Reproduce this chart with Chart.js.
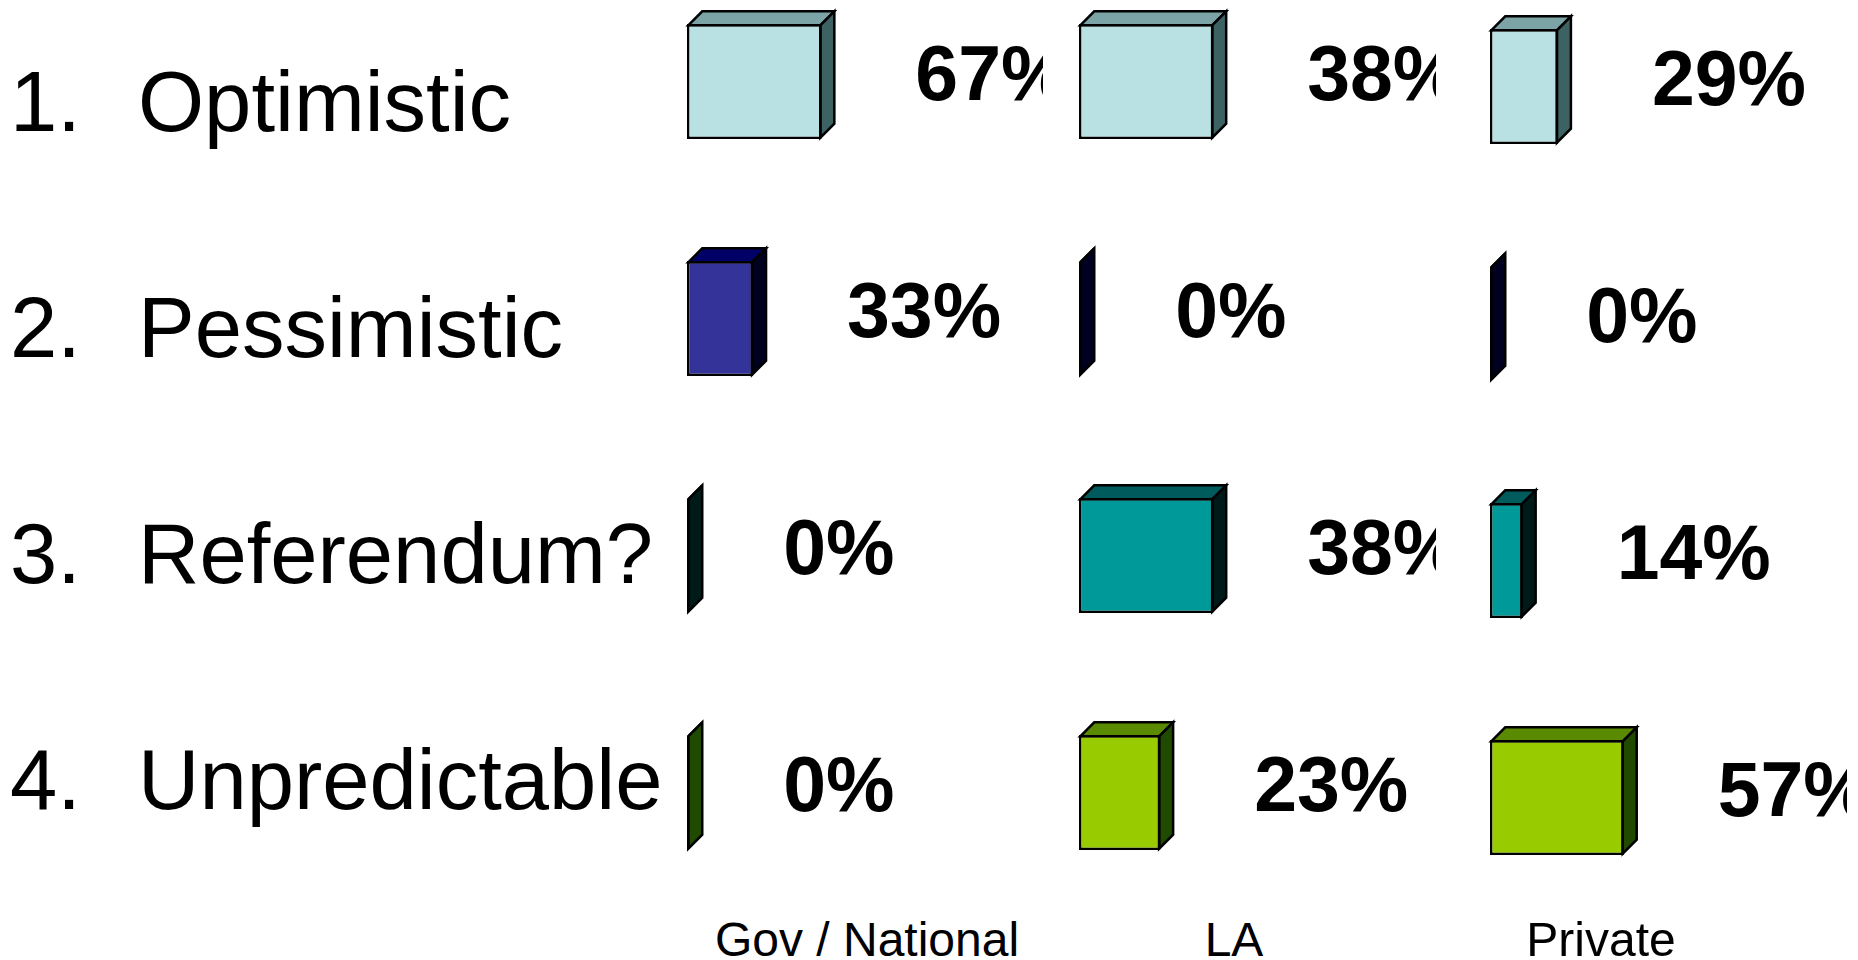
<!DOCTYPE html>
<html>
<head>
<meta charset="utf-8">
<title>Chart</title>
<script src="https://cdn.jsdelivr.net/npm/chart.js@4/dist/chart.umd.min.js"></script>
<style>
    html, body { margin: 0; padding: 0; background: #fff; overflow: hidden; }
    body { position: relative; width: 1858px; height: 960px; font-family: "Liberation Sans", Arial, sans-serif; color: #000; }
    .panel { position: absolute; }
    .cat, .group { position: absolute; white-space: pre; line-height: 1; }
    .cat { font-size: 85px; left: 0; }
    .cat b { position: absolute; left: 10px; font-weight: normal; }
    .cat span { position: absolute; left: 138px; }
    .group { font-size: 48px; transform: translateX(-50%); }
</style>
</head>
<body>
<script>
const categories = ["Optimistic", "Pessimistic", "Referendum?", "Unpredictable"];
const groups = ["Gov / National", "LA", "Private"];
const govValues = [67, 33, 0, 0];
const laValues = [38, 0, 38, 23];
const privateValues = [29, 0, 14, 57];

const frontColors = ["#b9e1e3", "#333399", "#009999", "#99cc00"];
const topColors = ["#7ca3a5", "#000066", "#005c5c", "#5a8a00"];
const sideColors = ["#3d6264", "#000020", "#001a1a", "#1f4a00"];

// the 3D look: top and side faces plus the value next to each bar
const depth = 14;
const border = 2.5;
const faces = {
    id: "faces",
    afterDatasetsDraw(chart) {
        const c = chart.ctx;
        const inset = border / 2;
        chart.getDatasetMeta(0).data.forEach((bar, i) => {
            const left = bar.base + inset;
            const right = Math.max(bar.x - inset, left);
            const top = bar.y - bar.height / 2 + inset;
            const bottom = bar.y + bar.height / 2 - inset;
            c.save();
            c.lineWidth = border;
            c.strokeStyle = "#000";
            c.lineJoin = "miter";

            c.fillStyle = topColors[i];
            c.beginPath();
            c.moveTo(left, top);
            c.lineTo(left + depth, top - depth);
            c.lineTo(right + depth, top - depth);
            c.lineTo(right, top);
            c.closePath();
            c.fill();
            c.stroke();

            c.fillStyle = sideColors[i];
            c.beginPath();
            c.moveTo(right, top);
            c.lineTo(right + depth, top - depth);
            c.lineTo(right + depth, bottom - depth);
            c.lineTo(right, bottom);
            c.closePath();
            c.fill();
            c.stroke();

            c.beginPath();
            c.moveTo(right, top);
            c.lineTo(right, bottom);
            c.stroke();

            c.fillStyle = "#000";
            c.font = 'bold 77px "Liberation Sans", Arial, sans-serif';
            c.textBaseline = "alphabetic";
            c.fillText(chart.data.datasets[0].data[i] + "%", right + depth + 81, bar.y + 18);
            c.restore();
        });
    }
};

function addPanel(values, left, top, width, max) {
    const canvas = document.createElement("canvas");
    canvas.className = "panel";
    canvas.style.left = (left - 4) + "px";
    canvas.style.top = top + "px";
    canvas.style.width = (width + 4) + "px";
    canvas.style.height = "948px";
    canvas.width = width + 4;
    canvas.height = 948;
    document.body.appendChild(canvas);

    new Chart(canvas.getContext("2d"), {
        type: "bar",
        data: {
            labels: categories,
            datasets: [{
                data: values,
                backgroundColor: frontColors,
                borderColor: "#000",
                borderWidth: border,
                borderSkipped: false,
                categoryPercentage: 1,
                barPercentage: 0.485
            }]
        },
        options: {
            indexAxis: "y",
            responsive: false,
            animation: false,
            layout: { padding: { left: 4 } },
            plugins: { legend: { display: false }, tooltip: { enabled: false } },
            scales: {
                x: { display: false, min: 0, max: max },
                y: { display: false }
            }
        },
        plugins: [faces]
    });
}

addPanel(govValues, 687, -37, 356, 177.2);
addPanel(laValues, 1079, -37, 357, 100.9);
addPanel(privateValues, 1490, -32, 357, 151.9);

// category list on the left, has its own spacing
categories.forEach((name, i) => {
    const row = document.createElement("div");
    row.className = "cat";
    row.style.top = (59 + i * 226) + "px";
    row.innerHTML = "<b>" + (i + 1) + ".</b><span>" + name + "</span>";
    document.body.appendChild(row);
});

const groupCentres = [867, 1234, 1601];
groups.forEach((name, i) => {
    const el = document.createElement("div");
    el.className = "group";
    el.textContent = name;
    el.style.left = groupCentres[i] + "px";
    el.style.top = "916px";
    document.body.appendChild(el);
});
</script>
</body>
</html>
